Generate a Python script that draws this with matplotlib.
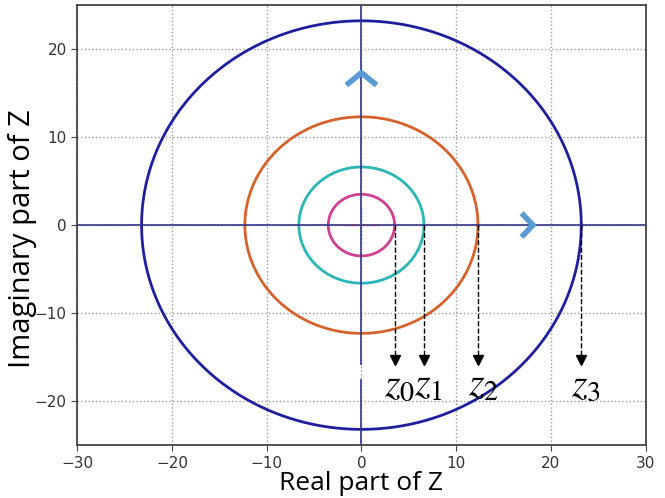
import matplotlib.pyplot as plt
import numpy as np

# circle radii |z_k|
radii = [3.5, 6.6, 12.3, 23.2]
colors = ['#d0408f', '#2cb5b5', '#d4622a', '#1f1f9e']
labels = ['$z_0$', '$z_1$', '$z_2$', '$z_3$']
xticks = [-30, -20, -10, 0, 10, 20, 30]
yticks = [-20, -10, 0, 10, 20]

plt.rcParams['mathtext.fontset'] = 'stix'

fig = plt.figure(figsize=(6.65, 4.98), dpi=100)
ax = fig.add_axes([0.116, 0.106, 0.855, 0.884])

theta = np.linspace(0, 2 * np.pi, 400)
for r, c in zip(radii, colors):
    ax.plot(r * np.cos(theta), r * np.sin(theta), color=c, lw=2)

# axis lines through the origin
ax.axhline(0, color='#34348a', lw=1.2)
ax.plot([0, 0], [25, -15.8], color='#34348a', lw=1.2)
ax.plot([0, 0], [-17.6, -25], color='#34348a', lw=1.2)

# small dotted cross at the centre
ax.plot([-1.8, 2], [0, 0], ':', color='#8a2040', lw=1)
ax.plot([0, 0], [-2, 2], ':', color='#206050', lw=1)

# chevrons showing direction
ax.plot([-1.6, 0, 1.6], [15.9, 17.3, 15.9], color='#5b9bd5', lw=4,
        solid_capstyle='butt', solid_joinstyle='miter')
ax.plot([16.9, 18.1, 16.9], [1.35, 0, -1.35], color='#5b9bd5', lw=4,
        solid_capstyle='butt', solid_joinstyle='miter')

# dashed arrows down to labels
tip = -15.6
for r, lab in zip(radii, labels):
    ax.plot([r, r], [0, tip + 0.8], '--', color='black', lw=1)
    ax.plot(r, tip + 0.3, marker='v', color='black', markersize=7)
    ax.text(r - 1.1, tip - 0.2, lab, fontsize=29, ha='left', va='top',
            color='black')

ax.set_xlim(-30, 30)
ax.set_ylim(-25, 25)
ax.set_xticks(xticks)
ax.set_yticks(yticks)
ax.grid(True, linestyle=':', color='#999999', lw=1)
ax.tick_params(labelsize=11, labelcolor='#333333', length=4, color='#444444')
for s in ax.spines.values():
    s.set_color('#444444')
    s.set_linewidth(1.3)

ax.set_xlabel('Real part of Z', fontsize=19, family='Open Sans', labelpad=0)
ax.set_ylabel('Imaginary part of Z', fontsize=21, family='Open Sans')
ax.yaxis.set_label_coords(-0.07, 0.47)

fig.savefig('out.png', dpi=100)
